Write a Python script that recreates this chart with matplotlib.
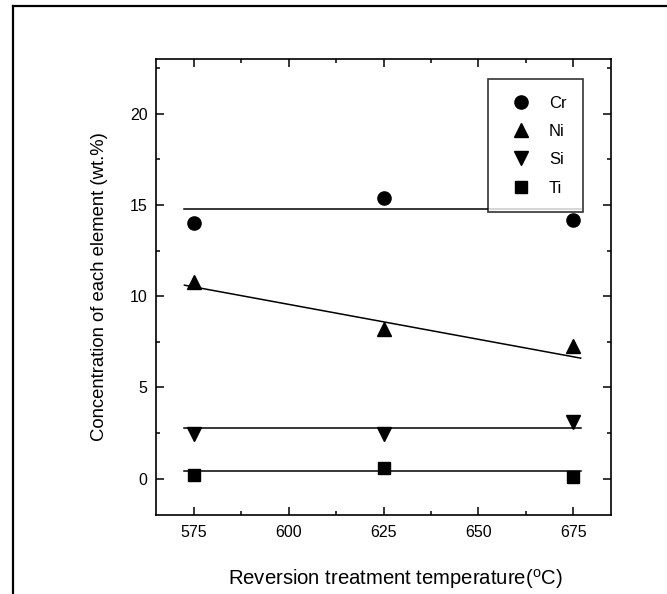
import matplotlib
matplotlib.use("Agg")
import matplotlib.pyplot as plt
from matplotlib.ticker import MultipleLocator
from matplotlib.lines import Line2D

plt.rcParams['font.family'] = ['Liberation Sans', 'DejaVu Sans']
plt.rcParams['mathtext.default'] = 'regular'

# Data
temps = [575, 625, 675]
cr = [14.0, 15.4, 14.15]
ni = [10.8, 8.2, 7.25]
si = [2.45, 2.45, 3.1]
ti = [0.2, 0.6, 0.1]

# Fitted lines (values at the ends of the fit range)
fit_x = [572.5, 677.0]
cr_fit = [14.78, 14.78]
ni_fit = [10.6, 6.6]
si_fit = [2.75, 2.75]
ti_fit = [0.4, 0.4]

series = [
    ("Cr", cr, cr_fit, "o", 9.5),
    ("Ni", ni, ni_fit, "^", 10),
    ("Si", si, si_fit, "v", 10),
    ("Ti", ti, ti_fit, "s", 8),
]

W, H = 667, 594
fig = plt.figure(figsize=(W / 100, H / 100), dpi=100)
ax = fig.add_axes([156 / W, (H - 515) / H, 455 / W, 456 / H])

for name, vals, fit, mk, ms in series:
    ax.plot(fit_x, fit, color='black', lw=1.1, zorder=2)
    ax.plot(temps, vals, linestyle='none', marker=mk, markersize=ms,
            color='black', label=name, zorder=3)

ax.set_xlim(565, 685)
ax.set_ylim(-2, 23)
ax.xaxis.set_major_locator(MultipleLocator(25))
ax.xaxis.set_minor_locator(MultipleLocator(12.5))
ax.yaxis.set_major_locator(MultipleLocator(5))
ax.yaxis.set_minor_locator(MultipleLocator(2.5))
ax.set_yticks([0, 5, 10, 15, 20])
ax.tick_params(which='both', direction='in', top=True, right=True,
               width=1.1, labelsize=11.5)
ax.tick_params(which='major', length=5.5)
ax.tick_params(which='minor', length=3)
ax.tick_params(axis='x', pad=7)
ax.tick_params(axis='y', pad=6)
for sp in ax.spines.values():
    sp.set_linewidth(1.2)

ax.set_xlabel('Reversion treatment temperature($^{o}$C)', fontsize=14.6)
ax.xaxis.set_label_coords(0.526, -0.114)
ax.set_ylabel('Concentration of each element (wt.%)', fontsize=13.3, labelpad=16)

leg = ax.legend(loc='upper left', bbox_to_anchor=(488 / W, (H - 79) / H),
                bbox_transform=fig.transFigure, frameon=True, fancybox=False,
                edgecolor='black', fontsize=12, handlelength=2.0,
                handletextpad=0.66, labelspacing=0.8, borderpad=1.0,
                borderaxespad=0)
leg.get_frame().set_linewidth(1.2)
leg.set_zorder(5)

# Outer frame (top and left edges)
fig.add_artist(Line2D([12.5 / W, 1.0], [(H - 5.5) / H, (H - 5.5) / H],
                      transform=fig.transFigure, color='black', lw=1.6))
fig.add_artist(Line2D([12.5 / W, 12.5 / W], [0.0, (H - 5.5) / H],
                      transform=fig.transFigure, color='black', lw=1.6))

fig.savefig('out.png', dpi=100)
